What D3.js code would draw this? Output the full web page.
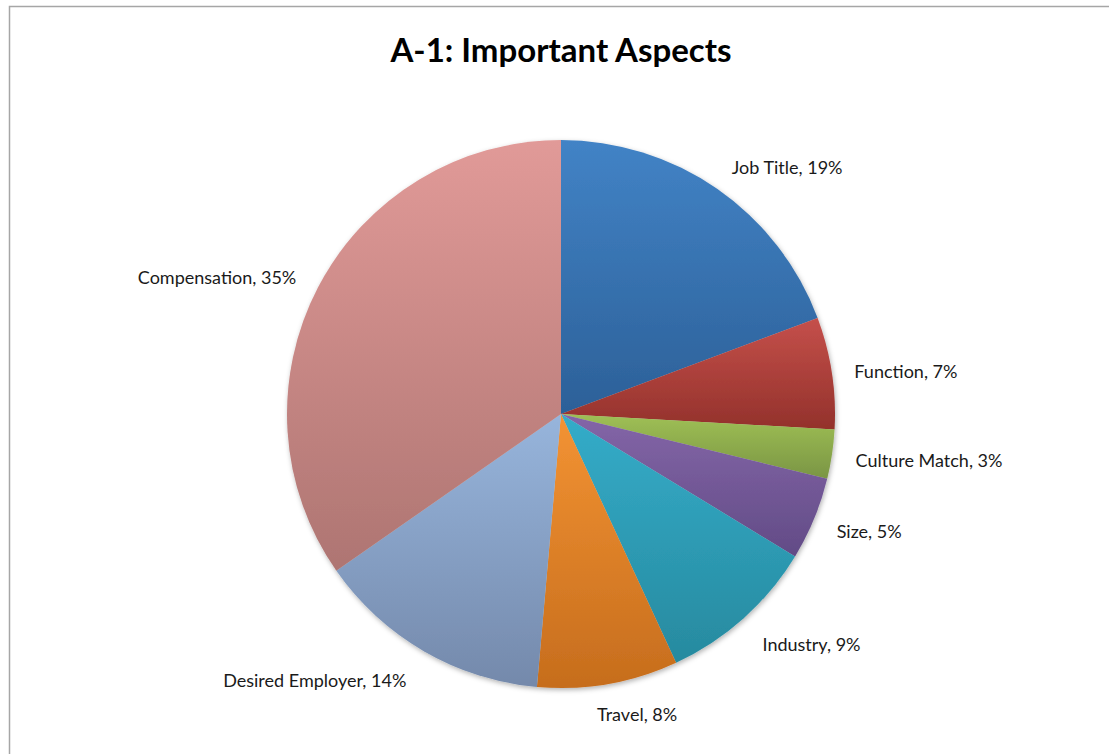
<!DOCTYPE html>
<html>
<head>
<meta charset="utf-8">
<script src="https://cdn.jsdelivr.net/npm/d3@7"></script>
<style>
  html, body { margin: 0; padding: 0; background: #fff; }
  svg { display: block; }
  text { font-family: Lato, "Open Sans", sans-serif; fill: #1a1a1a; }
</style>
</head>
<body>
<svg id="chart" width="1109" height="754"></svg>
<script>
// ---- data ----
const categories = ["Job Title", "Function", "Culture Match", "Size", "Industry", "Travel", "Desired Employer", "Compensation"];
const values = [19.3, 6.6, 2.9, 4.9, 9.4, 8.3, 13.9, 34.7];
const title = "A-1: Important Aspects";

// ---- styling / layout (not data) ----
const colorTop    = ["#4283c6", "#c5504b", "#9fc055", "#8466a8", "#34acc9", "#f39333", "#97b5dc", "#e19a98"];
const colorBottom = ["#2c6098", "#93312b", "#7a9544", "#624b86", "#278a9f", "#c66d1d", "#7489ab", "#ae7572"];
// label centre offsets from the slice's outer-arc midpoint
const labelNudge = [[70, -22], [74, -2], [97, 6], [55, 12], [68, 26], [29, 30], [-109, 29], [-101, -10]];

const W = 1109, H = 754;
const cx = 561, cy = 414, R = 274;

const svg = d3.select("#chart");
const defs = svg.append("defs");

// frame
svg.append("rect")
  .attr("x", 9.5).attr("y", 6.5)
  .attr("width", W + 20).attr("height", H + 20)
  .attr("fill", "#fff")
  .attr("stroke", "#a6a6a6").attr("stroke-width", 1.5);

// title
svg.append("text")
  .attr("x", cx).attr("y", 62)
  .attr("text-anchor", "middle")
  .style("font-weight", "700")
  .style("font-size", "33px")
  .style("fill", "#000")
  .text(title);

// shadow
const f = defs.append("filter").attr("id", "shadow")
  .attr("x", "-10%").attr("y", "-10%").attr("width", "120%").attr("height", "120%");
f.append("feDropShadow").attr("dx", 1).attr("dy", 2).attr("stdDeviation", 2.5)
  .attr("flood-color", "#000").attr("flood-opacity", 0.3);

// gradients
categories.forEach((c, i) => {
  const g = defs.append("linearGradient").attr("id", "grad" + i)
    .attr("x1", 0).attr("y1", 0).attr("x2", 0).attr("y2", 1);
  g.append("stop").attr("offset", "0%").attr("stop-color", colorTop[i]);
  g.append("stop").attr("offset", "100%").attr("stop-color", colorBottom[i]);
});

const data = categories.map((c, i) => ({ name: c, value: values[i], i }));
const total = d3.sum(values);

const pie = d3.pie().value(d => d.value).sort(null);
const arcs = pie(data);
const arc = d3.arc().innerRadius(0).outerRadius(R);

const g = svg.append("g").attr("transform", `translate(${cx},${cy})`);

g.append("g").attr("filter", "url(#shadow)")
  .selectAll("path").data(arcs).join("path")
  .attr("d", arc)
  .attr("fill", d => `url(#grad${d.data.i})`);

const fmt = d3.format(".0%");
g.selectAll("text.lbl").data(arcs).join("text")
  .attr("class", "lbl")
  .attr("text-anchor", "middle")
  .attr("dominant-baseline", "central")
  .attr("transform", d => {
    const a = (d.startAngle + d.endAngle) / 2;
    const x = Math.sin(a) * R + labelNudge[d.data.i][0];
    const y = -Math.cos(a) * R + labelNudge[d.data.i][1];
    return `translate(${x},${y})`;
  })
  .style("font-size", "18px")
  .text(d => `${d.data.name}, ${fmt(d.data.value / total)}`);
</script>
</body>
</html>
